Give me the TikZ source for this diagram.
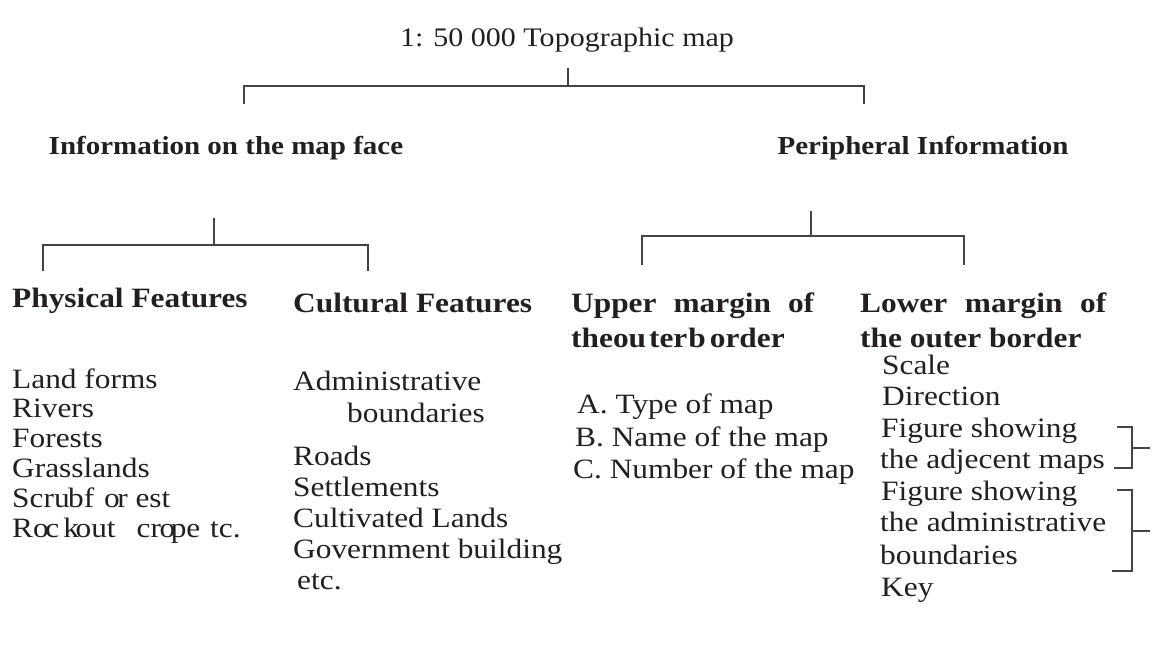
\documentclass[tikz,border=0pt]{standalone}
\usepackage{fontspec}
\setmainfont[FakeStretch=1.12]{Liberation Serif}
\definecolor{ink}{HTML}{231F20}
\definecolor{linec}{HTML}{444444}
\begin{document}
\begin{tikzpicture}[x=1pt,y=-1pt,
  txt/.style={anchor=base west, inner sep=0pt, text=ink, font=\fontsize{28}{32}\selectfont},
  title/.style={anchor=base, inner sep=0pt, text=ink, font=\fontsize{26.8}{32}\selectfont},
  head/.style={anchor=base, inner sep=0pt, text=ink, font=\fontsize{25.9}{30}\selectfont\bfseries},
  sub/.style={anchor=base west, inner sep=0pt, text=ink, font=\fontsize{28}{32}\selectfont\bfseries},
  conn/.style={draw=linec, line width=1.3pt}]
\useasboundingbox (0,0) rectangle (1153,671);

% title and top branch
\node[title] (ttl) at (567,47) {1: 50 000 Topographic map};
\coordinate (tTop) at (568,68);
\coordinate (tMid) at (568,86);
\coordinate (tL) at (244,104);
\coordinate (tR) at (864,104);
\draw[conn] (tTop) -- (tMid);
\draw[conn] (tL) |- (tMid) -| (tR);

% main headings
\node[head] (face) at (226,155) {Information on the map face};
\node[head] (peri) at (923,155) {Peripheral Information};

% left branch
\coordinate (lTop) at (214,218);
\coordinate (lMid) at (214,245);
\coordinate (lL) at (43,271);
\coordinate (lR) at (368,271);
\draw[conn] (lTop) -- (lMid);
\draw[conn] (lL) |- (lMid) -| (lR);

% right branch
\coordinate (rTop) at (811,211);
\coordinate (rMid) at (811,236);
\coordinate (rL) at (642,265);
\coordinate (rR) at (964,265);
\draw[conn] (rTop) -- (rMid);
\draw[conn] (rL) |- (rMid) -| (rR);

% sub headings
\node[sub] (phys) at (12,307) {Physical Features};
\node[sub] (cult) at (293,312) {Cultural Features};
\node[sub] (up1) at (571,312) {\hbox to 243pt{Upper\hfill margin\hfill of}};
\node[sub] (up2) at (571,347) {theou\kern3pt ter\kern1pt b\kern4pt order};
\node[sub] (lo1) at (860,312) {\hbox to 246pt{Lower\hfill margin\hfill of}};
\node[sub] (lo2) at (860,347) {the outer border};

% physical features
\node[txt] (p1) at (12,388) {Land forms};
\node[txt] (p2) at (12,417) {Rivers};
\node[txt] (p3) at (12,447) {Forests};
\node[txt] (p4) at (12,477) {Grasslands};
\node[txt] (p5) at (12,507) {Scru\kern-1.5pt bf\hspace{0.35em}o\kern-2.5pt r est};
\node[txt] (p6) at (12,537) {Ro\kern-3.5pt c\hspace{0.15em}k\kern-3.5pt out\hspace{0.75em}cr\kern-1.5pt o\kern-4.5pt pe\hspace{0.35em}tc.};

% cultural features
\node[txt] (c1) at (293,390) {Administrative};
\node[txt] (c2) at (347,422) {boundaries};
\node[txt] (c3) at (293,465) {Roads};
\node[txt] (c4) at (293,496) {Settlements};
\node[txt] (c5) at (293,527) {Cultivated Lands};
\node[txt] (c6) at (293,558) {Government building};
\node[txt] (c7) at (297,589) {etc.};

% upper margin
\node[txt] (u1) at (577,413) {A. Type of map};
\node[txt] (u2) at (575,446) {B. Name of the map};
\node[txt] (u3) at (573,478) {C. Number of the map};

% lower margin
\node[txt] (m1) at (882,374) {Scale};
\node[txt] (m2) at (882,405) {Direction};
\node[txt] (m3) at (881,437) {Figure showing};
\node[txt] (m4) at (880,468) {the adjecent maps};
\node[txt] (m5) at (881,500) {Figure showing};
\node[txt] (m6) at (880,531) {\hbox to 226pt{the\hfill administrative}};
\node[txt] (m7) at (880,564) {boundaries};
\node[txt] (m8) at (881,596) {Key};

% brackets
\coordinate (b1a) at (1117,427);
\coordinate (b1b) at (1114,468);
\coordinate (b1m) at (1132,448);
\coordinate (b1t) at (1150,448);
\draw[conn] (b1a) -| (b1m) |- (b1b);
\draw[conn] (b1m) -- (b1t);
\coordinate (b2a) at (1117,490);
\coordinate (b2b) at (1112,571);
\coordinate (b2m) at (1132,531);
\coordinate (b2t) at (1150,531);
\draw[conn] (b2a) -| (b2m) |- (b2b);
\draw[conn] (b2m) -- (b2t);
\end{tikzpicture}
\end{document}
